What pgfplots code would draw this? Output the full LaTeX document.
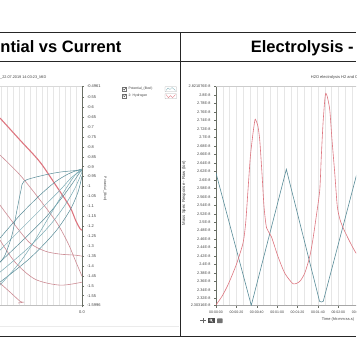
\documentclass[border=0pt]{standalone}
\usepackage{pgfplots}
\pgfplotsset{compat=1.18}
\usepackage{fontspec}
\setmainfont{Liberation Sans}
\definecolor{redc}{RGB}{222,118,128}
\definecolor{redl}{RGB}{205,140,148}
\definecolor{tealc}{RGB}{88,140,152}
\definecolor{teall}{RGB}{120,170,180}
\definecolor{gridc}{RGB}{230,230,230}
\definecolor{axc}{RGB}{105,110,100}
\newcommand{\fs}[1]{\fontsize{#1}{#1}\selectfont}
\begin{document}
\begin{tikzpicture}[x=1pt,y=1pt]
\path[use as bounding box] (0,0) rectangle (356,364);
\clip (0,0) rectangle (356,364);
\fill[white] (0,0) rectangle (356,364);

% ---------- left axis ----------
\begin{axis}[at={(0pt,58.5pt)}, anchor=south west, scale only axis,
  width=82pt, height=219pt,
  xmin=-1, xmax=0, ymin=-1.5996, ymax=-0.4961,
  axis y line*=right, axis x line*=bottom,
  axis line style={-},
  y axis line style={draw=axc, line width=0.5pt},
  x axis line style={draw=black!25, line width=0.4pt},
  xtick={0}, xticklabels={0.0},
  ytick={-0.4961,-0.55,-0.6,-0.65,-0.7,-0.75,-0.8,-0.85,-0.9,-0.95,-1,-1.05,-1.1,-1.15,-1.2,-1.25,-1.3,-1.35,-1.4,-1.45,-1.5,-1.55,-1.5996},
  yticklabels={-0.4961,-0.55,-0.6,-0.65,-0.7,-0.75,-0.8,-0.85,-0.9,-0.95,-1,-1.05,-1.1,-1.15,-1.2,-1.25,-1.3,-1.35,-1.4,-1.45,-1.5,-1.55,-1.5996},
  tick align=outside, major tick length=2pt,
  tick style={draw=axc, line width=0.4pt},
  tick label style={font=\fs{4}, text=black!75},
  yticklabel style={xshift=-0.5pt},
  minor xtick={-0.98,-0.91,-0.84,-0.77,-0.70,-0.63,-0.56,-0.49,-0.42,-0.35,-0.28,-0.21,-0.14,-0.07},
  minor tick length=0pt,
  xminorgrids, minor grid style={draw=gridc, line width=0.4pt},
  clip=false,
]
\draw[black!15, line width=0.4pt] (rel axis cs:0,1) -- (rel axis cs:1,1);
% red curves
\addplot[redc, line width=1.1pt, smooth, tension=0.5] coordinates {(-1,-0.655) (-0.756,-0.766) (-0.512,-0.877) (-0.305,-1.003) (-0.146,-1.104) (-0.073,-1.175) (-0.024,-1.212) (0,-1.220)};
\addplot[redl, line width=0.6pt, smooth, tension=0.5] coordinates {(-1,-0.8415) (-0.756,-0.942) (-0.512,-1.068) (-0.305,-1.184) (-0.171,-1.285) (-0.073,-1.381) (0,-1.452)};
\addplot[redl, line width=0.6pt, smooth, tension=0.5] coordinates {(-1,-1.0937) (-0.817,-1.1946) (-0.634,-1.285) (-0.451,-1.3256) (-0.268,-1.3407) (-0.085,-1.3458) (0,-1.351)};
\addplot[redl, line width=0.6pt, smooth, tension=0.5] coordinates {(-1,-1.270) (-0.817,-1.381) (-0.573,-1.467) (-0.268,-1.497) (0,-1.482)};
\addplot[redl, line width=0.6pt, smooth, tension=0.5] coordinates {(-1,-1.487) (-0.878,-1.532) (-0.756,-1.578) (-0.720,-1.583) (-0.780,-1.587)};
% teal curves
\addplot[tealc, line width=0.5pt, smooth, tension=0.5] coordinates {(-1,-1.2601) (-0.756,-1.1441) (-0.512,-1.0433) (-0.329,-0.9777) (-0.171,-0.9374) (-0.049,-0.9172) (0,-0.9121)};
\addplot[teall, line width=0.5pt, smooth, tension=0.5] coordinates {(-1,-1.3207) (-0.695,-1.1946) (-0.451,-1.0937) (-0.268,-1.0182) (-0.122,-0.9525) (0,-0.9172)};
\addplot[tealc, line width=0.5pt, smooth, tension=0.5] coordinates {(-1,-1.3812) (-0.695,-1.2601) (-0.451,-1.1593) (-0.268,-1.0685) (-0.122,-0.9878) (-0.024,-0.9273) (0,-0.9222)};
\addplot[teall, line width=0.5pt, smooth, tension=0.5] coordinates {(-1,-1.4316) (-0.659,-1.3106) (-0.390,-1.1946) (-0.207,-1.0937) (-0.085,-1.0080) (0,-0.9273)};
\addplot[tealc, line width=0.5pt, smooth, tension=0.5] coordinates {(-1,-1.4820) (-0.634,-1.3610) (-0.329,-1.2299) (-0.146,-1.1189) (-0.049,-1.0281) (0,-0.9474)};
\addplot[tealc, line width=0.5pt, smooth, tension=0.5] coordinates {(0,-0.9172) (-0.268,-0.9273) (-0.512,-0.9474) (-0.707,-0.9727) (-0.744,-1.0182) (-0.793,-1.1189) (-0.854,-1.2450) (-0.939,-1.3459) (-1,-1.3812)};
\addplot[teall, line width=0.5pt, smooth, tension=0.5] coordinates {(0,-0.9121) (-0.085,-0.9424) (-0.207,-1.0182) (-0.390,-1.1441) (-0.573,-1.2702) (-0.756,-1.3812) (-1,-1.4972)};
\end{axis}

% ---------- right axis ----------
\begin{axis}[at={(216pt,58.5pt)}, anchor=south west, scale only axis,
  width=152.9pt, height=219.2pt,
  xmin=0, xmax=150, ymin=2.30316, ymax=2.821076,
  axis y line*=left, axis x line*=bottom,
  axis line style={-},
  y axis line style={draw=axc, line width=0.5pt},
  x axis line style={draw=black!35, line width=0.4pt},
  xtick={0,20,40,60,80,100,120,140},
  xticklabels={00:00:00,00:00:20,00:00:40,00:01:00,00:01:20,00:01:40,00:02:00,00:02:20},
  ytick={2.30316,2.32,2.34,2.36,2.38,2.40,2.42,2.44,2.46,2.48,2.50,2.52,2.54,2.56,2.58,2.60,2.62,2.64,2.66,2.68,2.70,2.72,2.74,2.76,2.78,2.80,2.821076},
  yticklabels={2.30316E-8,2.32E-8,2.34E-8,2.36E-8,2.38E-8,2.4E-8,2.42E-8,2.44E-8,2.46E-8,2.48E-8,2.5E-8,2.52E-8,2.54E-8,2.56E-8,2.58E-8,2.6E-8,2.62E-8,2.64E-8,2.66E-8,2.68E-8,2.7E-8,2.72E-8,2.74E-8,2.76E-8,2.78E-8,2.8E-8,2.821076E-8},
  tick align=outside, major tick length=2pt,
  tick style={draw=axc, line width=0.4pt},
  xticklabel style={font=\fs{3.5}, text=black!75},
  yticklabel style={font=\fs{3.8}, text=black!75},
  minor x tick num=2, minor tick length=0pt,
  xmajorgrids, xminorgrids,
  major grid style={draw=gridc, line width=0.4pt},
  minor grid style={draw=gridc, line width=0.4pt},
]
\draw[black!20, line width=0.5pt] (rel axis cs:0,1) -- (rel axis cs:1,1);
\addplot[tealc, line width=0.6pt] coordinates {(0,2.616) (34.6,2.3035) (69.0,2.625) (101.6,2.313) (103.4,2.3115) (105.2,2.313) (139,2.622) (150,2.52)};
\addplot[redc, line width=0.6pt, smooth, tension=0.4] coordinates {(0,2.3045) (5.9,2.325) (11.8,2.3522) (19.9,2.3996) (26.5,2.4506) (29.1,2.498) (31.4,2.5764) (33.7,2.655) (36.3,2.7102) (37.9,2.7375) (38.5,2.7432) (39.8,2.737) (41.2,2.7258) (42.9,2.6944) (45.1,2.6158) (47.1,2.537) (49.6,2.4867) (54.3,2.466) (60.8,2.419) (67.4,2.3798) (75.6,2.3546) (82.1,2.36) (87.1,2.3798) (92.0,2.419) (95.0,2.4584) (98.6,2.5176) (101.8,2.5764) (103.3,2.655) (105.0,2.7338) (106.7,2.7887) (107.7,2.8045) (109.2,2.7965) (111.6,2.7652) (113.8,2.6944) (116.5,2.6158) (119.0,2.537) (121.7,2.5056) (125.1,2.4844) (127.9,2.4702) (132.8,2.4466) (137.4,2.427) (143.3,2.411)};
\end{axis}

% ---------- frame and titles ----------
\draw[black!85, line width=1pt] (0,331) -- (356,331);
\draw[black!85, line width=1pt] (0,302) -- (356,302);
\draw[black!85, line width=1pt] (0,27) -- (356,27);
\draw[black!85, line width=1pt] (180.5,331) -- (180.5,27);
\draw[black!8, line width=0.5pt] (0,38) -- (179,38);
\node[anchor=base east, inner sep=0pt, font=\fs{16.5}\bfseries] at (121.7,311) {Potential vs Current};
\node[anchor=base west, inner sep=0pt, font=\fs{16.5}\bfseries] at (250.7,311) {Electrolysis - Mass Spec};

% left panel texts
\node[anchor=west, inner sep=0pt, font=\fs{3.8}, text=black!75] at (0,286) {\_22.07.2019 14:03:23\_MID};
\node[rotate=-90, inner sep=0pt, font=\fs{3.4}, text=black!75] at (105,175) {Potential\_(Bvel)};
% legend
\draw[black!55, line width=0.3pt] (122.5,273) rectangle (126.5,277);
\draw[black!75, line width=0.4pt] (123.2,275.2) -- (124.3,273.9) -- (125.9,276.4);
\draw[black!55, line width=0.3pt] (122.5,266.3) rectangle (126.5,270.3);
\draw[black!75, line width=0.4pt] (123.2,268.5) -- (124.3,267.2) -- (125.9,269.7);
\node[anchor=west, inner sep=0pt, font=\fs{3.4}, text=black!75] at (128.3,275) {Potential\_(Bvel)};
\node[anchor=west, inner sep=0pt, font=\fs{3.4}, text=black!75] at (128.3,268.3) {2: Hydrogen};
\draw[black!30, line width=0.3pt, rounded corners=0.5pt] (165,272.3) rectangle (176.5,277.3);
\draw[teall, line width=0.3pt] (166,273.5) -- (168,276) -- (170,274.5) -- (172,276.5) -- (175.5,273.5);
\draw[black!30, line width=0.3pt, rounded corners=0.5pt] (165,265.3) rectangle (176.5,270.3);
\draw[redc, line width=0.3pt] (166,269.5) -- (168.5,266.2) -- (170.5,268.5) -- (172.5,266.2) -- (175.5,269.5);

% right panel texts
\node[anchor=west, inner sep=0pt, font=\fs{4}, text=black!75] at (310.7,287) {H2O electrolysis H2 and O2};
\node[rotate=90, inner sep=0pt, font=\fs{4.3}, text=black!75] at (184,171) {Mass Spec Response - Raw (torr)};
\node[anchor=east, inner sep=0pt, font=\fs{3.9}, text=black!75] at (354.3,45) {Time (hh:mm:ss.s)};
% toolbar icons
\draw[black!60, line width=0.5pt] (200,43.5) -- (206.3,43.5) (203.1,40.6) -- (203.1,46.4);
\fill[black!70] (208,40.8) rectangle (214.6,46.4);
\draw[white, line width=0.4pt] (210.8,44) circle (1.2pt) (211.6,43.1) -- (213,41.7);
\fill[black!55, rounded corners=0.6pt] (217,40.8) rectangle (222.6,45.6);
\end{tikzpicture}
\end{document}
